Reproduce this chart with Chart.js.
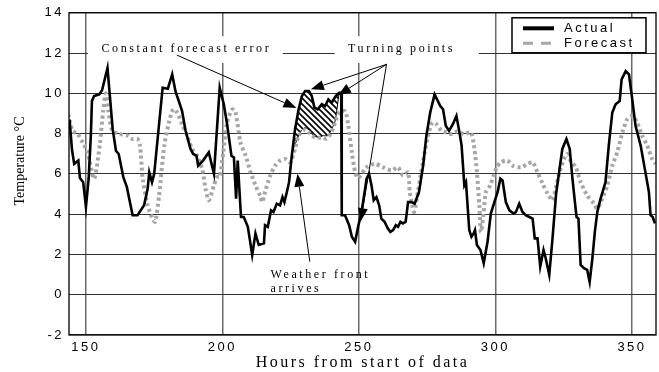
<!DOCTYPE html>
<html><head><meta charset="utf-8">
<script src="https://cdn.jsdelivr.net/npm/chart.js@4.4.0/dist/chart.umd.min.js"></script>
<style>html,body{margin:0;padding:0;background:#fff;}canvas{display:block}</style>
</head><body>
<canvas id="c" width="659" height="372" style="width:659px;height:372px"></canvas>
<script>
const actualHours = [144.0,144.9,145.7,147.2,147.8,149.0,150.0,151.0,151.8,152.2,153.0,154.9,155.9,157.9,159.8,161.0,162.0,163.7,165.0,167.1,168.9,171.3,172.6,173.2,174.2,175.0,178.1,180.0,181.6,182.8,184.0,185.2,186.5,188.3,189.3,190.5,191.1,192.9,195.0,196.9,199.0,200.5,201.7,203.3,204.2,205.0,205.6,206.8,207.8,209.3,210.9,212.1,213.3,215.2,215.6,216.6,217.8,218.7,219.9,221.1,222.0,222.7,223.6,224.4,225.4,226.6,227.9,229.1,230.3,231.7,232.7,233.7,234.9,236.4,237.6,238.8,240.0,241.5,242.7,243.5,243.7,244.9,246.4,247.4,248.6,249.8,250.8,251.5,252.8,253.7,254.6,255.4,256.4,257.4,258.2,259.4,260.6,261.5,262.5,263.5,264.3,265.2,266.1,267.1,268.0,269.2,270.4,272.0,273.5,274.7,276.1,277.7,278.9,279.8,280.8,281.8,283.0,284.4,285.7,286.9,287.6,288.6,289.2,290.4,291.2,292.0,292.5,293.2,294.5,295.7,297.1,298.3,299.6,300.8,301.8,302.6,303.8,305.1,306.7,307.5,308.7,309.9,311.1,312.4,313.6,314.4,315.4,316.4,317.6,318.4,319.7,320.9,322.2,323.3,324.5,326.0,327.2,328.2,329.1,329.7,330.4,331.2,332.4,333.6,334.5,335.5,336.4,337.3,338.5,340.3,341.5,342.8,344.0,345.5,346.2,347.7,348.9,350.1,351.3,353.2,354.7,356.2,356.8,357.6,358.4];
const actualTemps = [8.7,7.2,6.5,6.66,5.8,5.59,4.36,5.76,7.9,9.62,9.87,9.95,10.15,11.26,8.22,7.15,6.99,5.84,5.34,3.95,3.95,4.44,5.26,6.08,5.59,6.0,10.28,10.23,10.94,10.11,9.62,9.13,8.14,7.24,6.99,6.9,6.41,6.66,7.07,6.0,10.28,9.46,8.47,6.9,6.82,4.77,6.66,3.86,3.86,3.37,1.97,3.04,2.47,2.55,3.45,3.37,4.19,4.11,4.52,4.44,4.85,4.6,5.1,5.59,6.9,8.22,9.21,9.87,10.11,10.11,9.87,9.29,9.21,9.46,9.37,9.7,9.54,9.87,10.03,10.03,3.95,3.95,3.45,2.88,2.63,3.45,4.0,4.6,5.76,6.0,5.43,4.69,4.85,4.44,3.78,3.62,3.29,3.12,3.21,3.45,3.37,3.62,3.54,3.62,4.6,4.6,4.52,5.1,6.41,7.9,9.05,9.95,9.62,9.37,9.21,8.39,8.14,8.47,8.88,8.0,7.4,5.43,5.59,3.21,2.88,3.04,3.21,2.47,2.22,1.56,2.63,4.03,4.6,5.1,5.76,5.67,4.6,4.19,4.03,4.11,4.52,4.11,3.95,3.86,3.78,2.8,2.8,1.4,2.22,1.81,0.99,2.8,5.0,6.08,7.24,7.73,7.24,5.76,4.6,3.86,3.78,1.48,1.32,1.23,0.63,1.81,3.12,4.11,4.77,5.59,7.4,9.05,9.46,9.62,10.69,11.1,10.94,9.7,8.39,7.4,6.25,5.1,3.95,3.86,3.54];
const forecastHours = [143.5,145.1,147.0,148.8,150.6,153.0,155.1,156.3,157.3,158.2,159.4,160.6,162.2,165.3,167.1,168.9,169.8,170.8,172.6,174.4,175.4,176.8,178.7,180.4,182.0,183.4,185.2,187.1,188.9,190.7,192.6,193.8,195.0,196.9,198.0,199.0,200.3,201.7,203.6,204.8,206.6,208.5,210.3,212.1,214.0,214.6,215.6,217.5,219.3,221.1,223.0,224.8,226.6,227.9,230.3,232.1,234.0,236.4,238.2,240.0,241.9,243.1,245.0,246.1,247.4,248.6,249.6,250.5,252.8,255.8,258.8,261.9,264.3,266.1,268.0,268.6,269.5,270.2,271.6,272.8,274.1,275.3,276.9,278.4,280.3,282.1,283.9,285.8,288.6,291.0,292.3,293.2,294.1,294.7,295.7,296.5,298.1,299.3,300.5,302.0,304.4,306.3,309.3,311.8,313.6,315.4,317.3,319.1,320.9,322.3,323.5,325.1,326.3,327.5,329.4,331.2,333.6,336.1,337.3,339.1,341.0,342.8,344.6,346.5,348.3,350.1,351.9,353.7,355.6,357.4,358.6];
const forecastTemps = [8.96,8.14,7.98,7.56,7.07,5.76,7.48,9.13,10.0,9.13,8.22,8.06,7.98,7.9,7.73,7.73,7.4,5.76,4.44,3.78,3.62,4.93,7.4,8.55,9.21,9.05,8.47,7.9,7.24,6.9,6.25,5.26,4.69,5.43,5.84,5.84,7.07,8.55,9.21,9.05,7.56,6.9,6.08,5.43,4.85,4.6,5.1,5.92,6.41,6.66,6.74,6.58,7.24,7.9,8.2,8.0,7.8,7.8,7.75,8.1,8.8,9.1,9.1,8.39,7.07,6.08,5.8,5.9,6.33,6.5,6.33,6.17,6.33,5.92,6.08,5.1,4.44,4.11,5.1,6.08,7.07,7.9,8.55,8.47,8.14,8.06,7.98,8.1,7.98,8.06,7.24,6.08,4.44,3.12,4.11,5.1,5.43,5.92,6.33,6.58,6.66,6.41,6.33,6.5,6.58,6.08,5.51,5.02,4.69,5.43,6.08,6.74,6.99,6.66,6.33,5.59,4.93,4.52,4.28,4.77,5.43,6.41,7.07,8.06,8.72,8.88,8.55,7.9,7.4,6.74,6.5];
const errorHours = [225.6,227.0,228.8,230.3,232.1,233.3,235.2,237.0,238.6,240.0,241.3,242.7];
const errorTemps = [7.12,7.6,8.14,8.3,8.14,7.9,7.82,7.9,7.9,8.22,8.64,10.0];
const xTickValues = [150,200,250,300,350];
const yTickValues = [-2,0,2,4,6,8,10,12,14];
const seriesLabels = ['Actual','Forecast'];
const notes = [
  {text:'Constant forecast error', x:155.7, y:12.22, box:[150.7,222.1,12.84,11.51]},
  {text:'Turning points', x:246.0, y:12.22, box:[241.1,293.9,12.84,11.51]},
  {text:'Weather front', x:217.6, y:0.99},
  {text:'arrives', x:217.6, y:0.30}
];
const arrows = [
  [183.3,11.9,227.1,9.27],
  [260.1,11.44,232.4,10.2],
  [260.1,11.44,242.35,9.91],
  [260.1,11.44,250.66,3.65],
  [232.0,1.64,227.5,6.01]
];

const zip = (xs, ys) => xs.map((x,i)=>({x, y: ys[i]}));

const hatch = (() => {
  const c = document.createElement('canvas'); c.width = 6; c.height = 6;
  const g = c.getContext('2d');
  g.fillStyle = '#fff'; g.fillRect(0,0,6,6);
  g.strokeStyle = '#000'; g.lineWidth = 1.6;
  g.beginPath();
  g.moveTo(-1,-1); g.lineTo(7,7);
  g.moveTo(-1,5); g.lineTo(1,7);
  g.moveTo(5,-1); g.lineTo(7,1);
  g.stroke();
  return g.createPattern(c,'repeat');
})();

const SERIF = '"Liberation Serif", "Times New Roman", serif';
const SANS = '"Liberation Sans", Arial, sans-serif';

const decor = {
  id: 'decor',
  beforeDraw(chart) { chart.ctx.letterSpacing = '2.5px'; },
  beforeDatasetsDraw(chart) {
    const {ctx, scales:{x, y}} = chart;
    ctx.save();
    ctx.letterSpacing = '2.6px';
    ctx.font = '12px ' + SERIF;
    ctx.fillStyle = '#000';
    ctx.textBaseline = 'middle';
    ctx.textAlign = 'left';
    notes.forEach(n => {
      if (n.box) {
        const x0 = x.getPixelForValue(n.box[0]), x1 = x.getPixelForValue(n.box[1]);
        const y0 = y.getPixelForValue(n.box[2]), y1 = y.getPixelForValue(n.box[3]);
        ctx.fillStyle = '#fff';
        ctx.fillRect(x0, y0, x1-x0, y1-y0);
        ctx.fillStyle = '#000';
      }
      ctx.fillText(n.text, x.getPixelForValue(n.x), y.getPixelForValue(n.y));
    });
    ctx.restore();
  },
  afterDraw(chart) {
    const {ctx, chartArea:a, scales:{x, y}} = chart;
    ctx.save();
    ctx.letterSpacing = '0px';
    // arrows
    ctx.strokeStyle = '#000'; ctx.fillStyle = '#000'; ctx.lineWidth = 1;
    arrows.forEach(([fx,fy,tx,ty]) => {
      const x0 = x.getPixelForValue(fx), y0 = y.getPixelForValue(fy);
      const x1 = x.getPixelForValue(tx), y1 = y.getPixelForValue(ty);
      const ang = Math.atan2(y1-y0, x1-x0);
      const L = 13, W = 5;
      const bx = x1 - L*Math.cos(ang), by = y1 - L*Math.sin(ang);
      ctx.beginPath(); ctx.moveTo(x0,y0); ctx.lineTo(bx,by); ctx.stroke();
      ctx.beginPath();
      ctx.moveTo(x1,y1);
      ctx.lineTo(bx + W*Math.sin(ang), by - W*Math.cos(ang));
      ctx.lineTo(bx - W*Math.sin(ang), by + W*Math.cos(ang));
      ctx.closePath(); ctx.fill();
    });
    // plot frame
    ctx.lineWidth = 1.3; ctx.strokeStyle = '#000';
    ctx.strokeRect(a.left, a.top, a.right-a.left, a.bottom-a.top);
    // legend
    const bw = 134, bh = 35;
    const bx = a.right - 10 - bw, by = a.top + 5;
    ctx.fillStyle = '#fff'; ctx.fillRect(bx, by, bw, bh);
    ctx.lineWidth = 1.5; ctx.strokeRect(bx, by, bw, bh);
    const ds = chart.data.datasets;
    ctx.lineWidth = 4; ctx.strokeStyle = ds[0].borderColor;
    ctx.beginPath(); ctx.moveTo(bx+11, by+10.5); ctx.lineTo(bx+42, by+10.5); ctx.stroke();
    ctx.lineWidth = 3; ctx.strokeStyle = ds[1].borderColor; ctx.setLineDash([10,8]);
    ctx.beginPath(); ctx.moveTo(bx+11, by+25.5); ctx.lineTo(bx+42, by+25.5); ctx.stroke();
    ctx.setLineDash([]);
    ctx.fillStyle = '#000'; ctx.font = '13px ' + SANS; ctx.letterSpacing = '2.5px';
    ctx.textBaseline = 'middle'; ctx.textAlign = 'left';
    ctx.fillText(ds[0].label, bx+52, by+10.5);
    ctx.fillText(ds[1].label, bx+52, by+25.5);
    // y title
    ctx.letterSpacing = '0px';
    ctx.font = '14px ' + SERIF;
    ctx.translate(20, 161); ctx.rotate(-Math.PI/2);
    ctx.textAlign = 'center';
    ctx.fillText('Temperature °C', 0, 0);
    ctx.restore();
  }
};

new Chart(document.getElementById('c'), {
  type: 'line',
  data: {
    datasets: [
      {label: seriesLabels[0], data: zip(actualHours, actualTemps), borderColor: '#000', borderWidth: 2.6, pointRadius: 0, tension: 0, fill: false},
      {label: seriesLabels[1], data: zip(forecastHours, forecastTemps), borderColor: '#a6a6a6', borderWidth: 4, borderDash: [3,3], pointRadius: 0, tension: 0.25, fill: false},
      {label: 'error', data: zip(errorHours, errorTemps), borderColor: '#000', borderWidth: 1, pointRadius: 0, tension: 0.2, fill: 0, backgroundColor: hatch}
    ]
  },
  options: {
    responsive: false, animation: false,
    layout: {padding: {top: 12, right: 3, left: 0, bottom: 0}},
    plugins: {legend: {display: false}, tooltip: {enabled: false}},
    scales: {
      x: {
        type: 'linear', min: 143.8, max: 358.8,
        afterBuildTicks: s => { s.ticks = xTickValues.map(v => ({value: v})); },
        afterFit: s => { s.height = 37; },
        grid: {color: '#6a6a6a', lineWidth: 1.5, drawTicks: false},
        border: {display: false},
        ticks: {color: '#000', font: {family: SANS, size: 13}, padding: 5, maxRotation: 0},
        title: {display: true, text: 'Hours from start of data', color: '#000', font: {family: SERIF, size: 16}, padding: {top: 0, bottom: 0}}
      },
      y: {
        type: 'linear', min: -2, max: 14,
        afterBuildTicks: s => { s.ticks = yTickValues.map(v => ({value: v})); },
        afterFit: s => { s.width = 69; },
        grid: {color: '#333', lineWidth: 1.1, drawTicks: false},
        border: {display: false},
        ticks: {color: '#000', font: {family: SANS, size: 13}, padding: 5}
      }
    }
  },
  plugins: [decor]
});
</script>
</body></html>
